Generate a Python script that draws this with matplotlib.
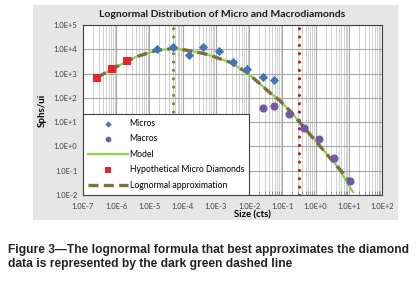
import matplotlib
matplotlib.use("Agg")
import matplotlib.pyplot as plt
import numpy as np
from matplotlib.patches import Rectangle
from matplotlib.ticker import FixedLocator, NullFormatter

plt.rcParams['font.family'] = ['Lato', 'DejaVu Sans']

# Data (sizes in carats, y in Sphs/ui)
micro_x = [1.7e-5, 5.1e-5, 1.55e-4, 4.1e-4, 1.26e-3, 3.3e-3, 8.7e-3, 2.6e-2, 5.6e-2]
micro_y = [1.0e4, 1.3e4, 5.6e3, 1.2e4, 8.3e3, 2.9e3, 1.6e3, 7.5e2, 5.2e2]

macro_x = [2.6e-2, 5.6e-2, 0.16, 0.46, 1.3, 3.6, 11.0]
macro_y = [38, 46, 21, 5.6, 2.0, 0.35, 0.037]

hypo_x = [2.6e-7, 7.4e-7, 2.1e-6]
hypo_y = [680, 1500, 3200]

model_x = [2.6e-7, 7.4e-7, 2.1e-6, 4.3e-6, 8.5e-6, 1.7e-5, 3.4e-5, 5.1e-5, 1.35e-4,
           4.1e-4, 8.3e-4, 2.7e-3, 8.7e-3, 2.1e-2, 4.3e-2, 8.5e-2, 0.17, 0.35,
           1.38, 4.5, 13.5]
model_y = [680, 1500, 3200, 5100, 6800, 9100, 1.0e4, 1.1e4, 9.1e3,
           6.8e3, 5.1e3, 2.9e3, 1.1e3, 380, 160, 76, 29, 9.1,
           1.0, 0.15, 0.013]

logn_x = model_x[:-1] + [9.5]
logn_y = model_y[:-1] + [0.045]

micro_cutoff = 5.1e-5
macro_cutoff = 0.32

xticks = [10.0 ** k for k in range(-7, 3)]
xlabels = ["1.0E-7", "1.0E-6", "1.0E-5", "1.0E-4", "1.0E-3", "1.0E-2",
           "1.0E-1", "1.0E+0", "1.0E+1", "1.0E+2"]
yticks = [10.0 ** k for k in range(-2, 6)]
ylabels = ["1.0E-2", "1.0E-1", "1.0E+0", "1.0E+1", "1.0E+2", "1.0E+3",
           "1.0E+4", "1.0E+5"]

fig = plt.figure(figsize=(4.18, 2.87), dpi=100)
fig.patch.set_facecolor("white")

# gray chart panel
fig.patches.append(Rectangle((33 / 418, 1 - 220 / 287), 365 / 418, 215 / 287,
                             transform=fig.transFigure, facecolor="#e6e6e6",
                             edgecolor="none", zorder=-5))

ax = fig.add_axes([83 / 418, 1 - 195 / 287, 299 / 418, 170 / 287])
ax.set_facecolor("white")
ax.set_xscale("log")
ax.set_yscale("log")
ax.set_xlim(1e-7, 1e2)
ax.set_ylim(1e-2, 1e5)

ax.xaxis.set_major_locator(FixedLocator(xticks))
ax.xaxis.set_minor_locator(FixedLocator(
    [m * 10.0 ** k for k in range(-7, 2) for m in range(2, 10)]))
ax.xaxis.set_minor_formatter(NullFormatter())
ax.set_xticklabels(xlabels)
ax.yaxis.set_major_locator(FixedLocator(yticks))
ax.yaxis.set_minor_locator(FixedLocator([]))
ax.set_yticklabels(ylabels)

ax.grid(which="major", color="#a6a6a6", lw=0.8)
ax.grid(which="minor", axis="x", color="#c8c8c8", lw=0.6)
ax.tick_params(which="both", length=0, labelsize=5.5, colors="#404040")
ax.tick_params(axis="y", pad=4)
ax.tick_params(axis="x", pad=5.5)
ax.tick_params(which="minor", axis="x", direction="in", length=3, colors="#888888")
for s in ax.spines.values():
    s.set_color("#404040")
    s.set_linewidth(0.8)

ax.axvline(micro_cutoff, color="#7f8c3c", lw=2.3, ls=(0, (0.01, 2.6)),
           dash_capstyle="round", zorder=3)
ax.axvline(macro_cutoff, color="#a6282b", lw=2.3, ls=(0, (0.01, 2.6)),
           dash_capstyle="round", zorder=3)

ax.plot(model_x, model_y, color="#92d050", lw=1.6, label="Model", zorder=4)
ax.plot(logn_x, logn_y, color="#7d6f3a", lw=2.4, ls=(0, (3, 1.6)),
        label="Lognormal approximation", zorder=5)
ax.scatter(micro_x, micro_y, marker="D", s=22, color="#3f76b9", label="Micros",
           zorder=6, linewidths=0)
ax.scatter(macro_x, macro_y, marker="o", s=34, color="#7457a6", label="Macros",
           zorder=6, linewidths=0)
ax.scatter(hypo_x, hypo_y, marker="s", s=40, color="#e8262a",
           label="Hypothetical Micro Diamonds", zorder=7, linewidths=0)

h, l = ax.get_legend_handles_labels()
order = ["Micros", "Macros", "Model", "Hypothetical Micro Diamonds",
         "Lognormal approximation"]
hd = dict(zip(l, h))
leg = ax.legend([hd[k] for k in order], order, loc="lower left",
                bbox_to_anchor=(0, 0), borderaxespad=0, fancybox=False,
                framealpha=1, edgecolor="#404040", fontsize=6.2,
                handlelength=4.6, handletextpad=0.2, labelspacing=0.75,
                borderpad=0.6, markerscale=0.7)
leg.get_frame().set_linewidth(0.8)
leg.set_zorder(10)

ax.set_title("Lognormal Distribution of Micro and Macrodiamonds",
             fontsize=7.5, fontweight="bold", pad=6, color="#1a1a1a",
             x=(222 - 83) / 299)
ax.set_ylabel("Sphs/ui", fontsize=7, fontweight="bold", labelpad=5)
fig.text(252 / 418, 1 - 215 / 287, "Size (cts)", fontsize=6.8, fontweight="bold",
         ha="center", va="center")

fig.text(8 / 418, 1 - 257 / 287,
         "Figure 3\u2014The lognormal formula that best approximates the diamond\n"
         "data is represented by the dark green dashed line",
         family="Liberation Sans", fontsize=8.65, fontweight="bold",
         ha="left", va="center", linespacing=1.3, color="#222222")

fig.savefig("out.png", dpi=100)
